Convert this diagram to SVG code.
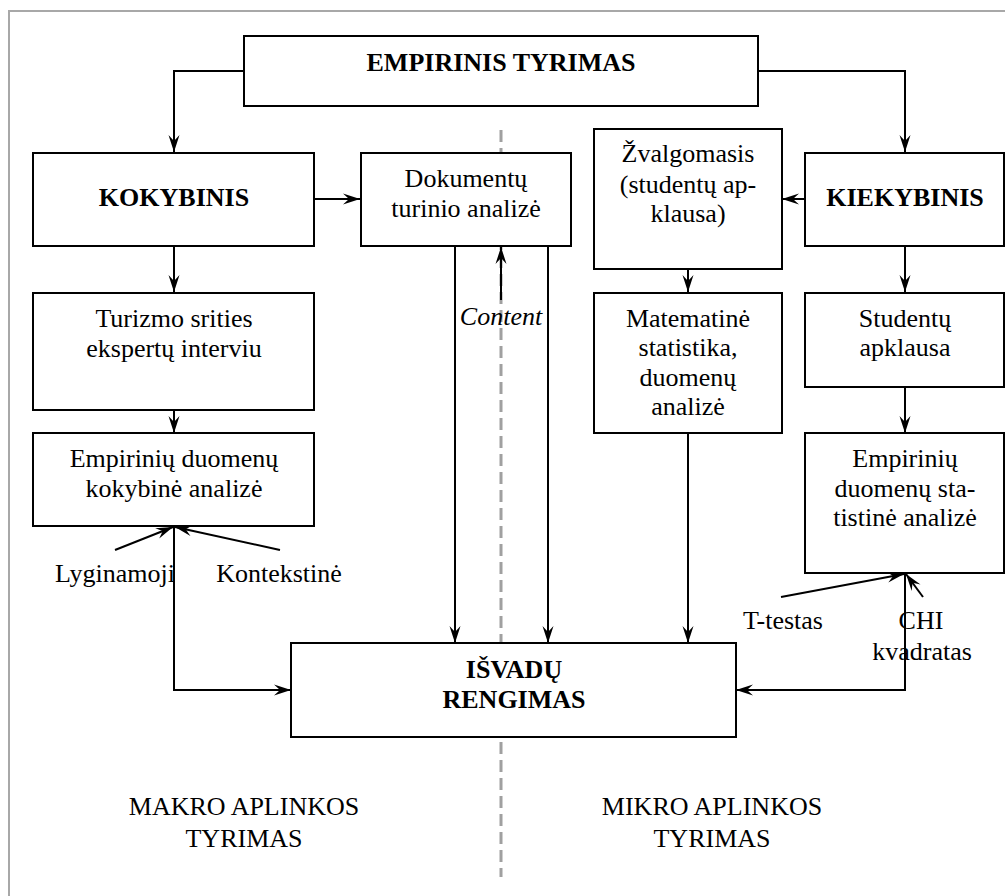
<svg xmlns="http://www.w3.org/2000/svg" width="1005" height="896" viewBox="0 0 1005 896">
  <style>
    .box { fill: #ffffff; stroke: #000000; stroke-width: 2; }
    .t { font-family: "Liberation Serif", "Times New Roman", serif; font-size: 26px; fill: #000000; text-anchor: middle; }
    .b { font-weight: bold; }
    .i { font-style: italic; }
    .c { fill: none; stroke: #000000; stroke-width: 2; }
    .arr { marker-end: url(#head); }
  </style>
  <defs>
    <marker id="head" markerUnits="userSpaceOnUse" markerWidth="20" markerHeight="14" viewBox="-18 -7 20 14" refX="0" refY="0" orient="auto">
      <path d="M0,0 L-17,-5.5 L-11,0 L-17,5.5 Z" fill="#000000"/>
    </marker>
  </defs>

  <rect x="0" y="0" width="1005" height="896" fill="#ffffff"/>

  <!-- outer frame (top and left edges only) -->
  <path d="M9,896 V11 H1005" fill="none" stroke="#a8a8a8" stroke-width="2"/>

  <!-- divider between macro and micro parts -->
  <line x1="501" y1="130" x2="501" y2="877" stroke="#a0a0a0" stroke-width="3" stroke-dasharray="12 6"/>

  <g id="connectors">
    <path class="c arr" d="M244,71 H174 V152"/>
    <path class="c arr" d="M758,71 H905 V152"/>
    <path class="c arr" d="M314,199 H360"/>
    <path class="c arr" d="M805,199 H782"/>
    <path class="c arr" d="M174,246 V292"/>
    <path class="c arr" d="M174,410 V433"/>
    <path class="c arr" d="M688,269 V292"/>
    <path class="c arr" d="M905,246 V292"/>
    <path class="c arr" d="M905,387 V433"/>
    <path class="c arr" d="M501,300 V247"/>
    <path class="c arr" d="M455,246 V643"/>
    <path class="c arr" d="M548,246 V643"/>
    <path class="c arr" d="M688,433 V643"/>
    <path class="c arr" d="M174,526 V690 H291"/>
    <path class="c arr" d="M905,573 V690 H736"/>
    <path class="c arr" d="M115,550 L173,527"/>
    <path class="c arr" d="M280,550 L175,527"/>
    <path class="c arr" d="M781,597 L904,574"/>
    <path class="c arr" d="M923,597 L906,574"/>
  </g>

  <g id="empirinis">
    <rect class="box" x="244" y="36" width="514" height="70"/>
    <text class="t b" x="501" y="71">EMPIRINIS TYRIMAS</text>
  </g>

  <g id="kokybinis">
    <rect class="box" x="33" y="153" width="281" height="93"/>
    <text class="t b" x="174" y="206">KOKYBINIS</text>
  </g>

  <g id="dokumentu">
    <rect class="box" x="361" y="153" width="210" height="93"/>
    <text class="t" x="466" y="187">Dokumentų</text>
    <text class="t" x="466" y="217">turinio analizė</text>
  </g>

  <g id="zvalgomasis">
    <rect class="box" x="594" y="129" width="188" height="140"/>
    <text class="t" x="688" y="162">Žvalgomasis</text>
    <text class="t" x="688" y="193">(studentų ap-</text>
    <text class="t" x="688" y="222">klausa)</text>
  </g>

  <g id="kiekybinis">
    <rect class="box" x="805" y="153" width="199" height="93"/>
    <text class="t b" x="905" y="206">KIEKYBINIS</text>
  </g>

  <g id="turizmo">
    <rect class="box" x="33" y="293" width="281" height="117"/>
    <text class="t" x="174" y="327">Turizmo srities</text>
    <text class="t" x="174" y="357">ekspertų interviu</text>
  </g>

  <g id="matematine">
    <rect class="box" x="594" y="293" width="188" height="140"/>
    <text class="t" x="688" y="327">Matematinė</text>
    <text class="t" x="688" y="356">statistika,</text>
    <text class="t" x="688" y="386">duomenų</text>
    <text class="t" x="688" y="415">analizė</text>
  </g>

  <g id="studentu">
    <rect class="box" x="805" y="293" width="199" height="94"/>
    <text class="t" x="905" y="327">Studentų</text>
    <text class="t" x="905" y="356">apklausa</text>
  </g>

  <g id="kokybine-analize">
    <rect class="box" x="33" y="433" width="281" height="93"/>
    <text class="t" x="174" y="467">Empirinių duomenų</text>
    <text class="t" x="174" y="497">kokybinė analizė</text>
  </g>

  <g id="statistine-analize">
    <rect class="box" x="805" y="433" width="199" height="140"/>
    <text class="t" x="905" y="467">Empirinių</text>
    <text class="t" x="905" y="497">duomenų sta-</text>
    <text class="t" x="905" y="526">tistinė analizė</text>
  </g>

  <g id="isvadu">
    <rect class="box" x="291" y="643" width="445" height="94"/>
    <text class="t b" x="514" y="678">IŠVADŲ</text>
    <text class="t b" x="514" y="708">RENGIMAS</text>
  </g>

  <g id="labels">
    <text class="t i" x="501" y="325">Content</text>
    <text class="t" x="115" y="582">Lyginamoji</text>
    <text class="t" x="279" y="582">Kontekstinė</text>
    <text class="t" x="783" y="629">T-testas</text>
    <text class="t" x="921" y="629">CHI</text>
    <text class="t" x="922" y="660">kvadratas</text>
    <text class="t" x="244" y="815">MAKRO APLINKOS</text>
    <text class="t" x="244" y="847">TYRIMAS</text>
    <text class="t" x="712" y="815">MIKRO APLINKOS</text>
    <text class="t" x="712" y="847">TYRIMAS</text>
  </g>
</svg>
